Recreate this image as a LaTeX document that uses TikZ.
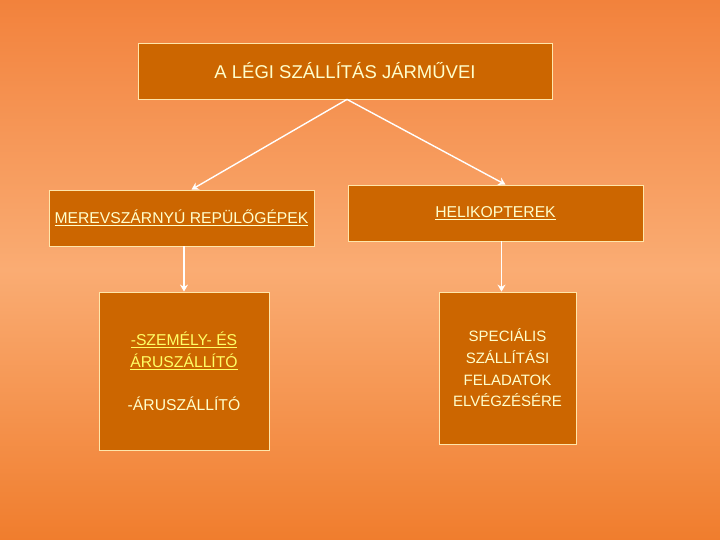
\documentclass[tikz,border=0pt]{standalone}
\usepackage{fontspec}
\usetikzlibrary{arrows.meta}
\setmainfont{Liberation Sans}
\definecolor{boxfill}{RGB}{204,102,0}
\definecolor{boxline}{RGB}{255,230,170}
\definecolor{boxtext}{RGB}{255,255,204}
\definecolor{hitext}{RGB}{255,255,102}
\definecolor{skytop}{RGB}{242,130,60}
\definecolor{skymid}{RGB}{250,172,115}
\definecolor{skybot}{RGB}{240,125,45}

\begin{document}
\begin{tikzpicture}[x=1pt,y=-1pt,
  box/.style={shape=rectangle,draw=boxline,fill=boxfill,text=boxtext,align=center,line width=0.8pt,inner sep=0pt,font=\fontsize{15.7}{22}\selectfont},
  link/.style={-{Stealth[length=7pt,width=8pt]},draw=white,line width=1.4pt}]
\shade[top color=skytop,bottom color=skybot,middle color=skymid] (0,0) rectangle (720,540);
\useasboundingbox (0,0) rectangle (720,540);
\node[box,minimum width=414pt,minimum height=56pt,font=\fontsize{18.5}{22}\selectfont] (0) at (345,71) {A LÉGI SZÁLLÍTÁS JÁRMŰVEI};
\node[box,minimum width=265pt,minimum height=56pt] (1) at (181.5,218) {\underline{MEREVSZÁRNYÚ REPÜLŐGÉPEK}};
\node[box,minimum width=295pt,minimum height=56pt] (2) at (495.5,213) {\underline{HELIKOPTEREK}};
\node[box,minimum width=170pt,minimum height=158pt] (3) at (184,371) {\color{hitext}\underline{-SZEMÉLY- ÉS}\\\color{hitext}\underline{ÁRUSZÁLLÍTÓ}\\[21pt]-ÁRUSZÁLLÍTÓ};
\node[box,minimum width=137pt,minimum height=152pt,font=\fontsize{15}{21.7}\selectfont] (4) at (507.5,368) {SPECIÁLIS\\SZÁLLÍTÁSI\\FELADATOK\\ELVÉGZÉSÉRE};

\draw [link] ([xshift=2pt]0.south) -- ([xshift=10pt]1.north);
\draw [link] ([xshift=2pt]0.south) -- ([xshift=10pt]2.north);
\draw [link] (1.south -| 3.north) -- (3.north);
\draw [link] ([xshift=6pt]2.south) -- ([xshift=6pt]2.south |- 4.north);
\end{tikzpicture}
\end{document}
